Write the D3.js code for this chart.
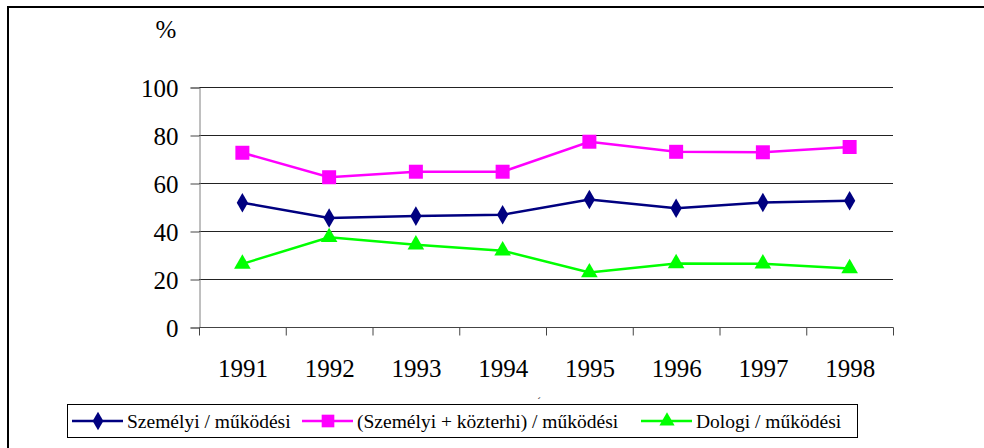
<!DOCTYPE html>
<html>
<head>
<meta charset="utf-8">
<script src="https://cdn.jsdelivr.net/npm/d3@7/dist/d3.min.js"></script>
<style>
  body { margin: 0; background: #fff; }
  svg { display: block; }
</style>
</head>
<body>
<svg width="984" height="448" font-family="Liberation Serif"></svg>
<script>
// data
var years = ["1991", "1992", "1993", "1994", "1995", "1996", "1997", "1998"];
var szemelyi = [51.8, 45.4, 46.2, 46.8, 53.1, 49.5, 51.9, 52.6];
var szemKozterhi = [72.6, 62.4, 64.7, 64.7, 77.2, 73.0, 72.8, 75.0];
var dologi = [26.3, 37.4, 34.3, 31.8, 22.7, 26.5, 26.4, 24.4];
var yTicks = [0, 20, 40, 60, 80, 100];
var seriesNames = ["Személyi / működési", "(Személyi + közterhi) / működési", "Dologi / működési"];
var seriesColors = ["#000080", "#ff00ff", "#00ff00"];
var seriesShapes = [d3.symbolDiamond, d3.symbolSquare, d3.symbolTriangle];

var svg = d3.select("svg"),
    width = +svg.attr("width"),
    height = +svg.attr("height");

var x = d3.scaleBand().domain(years).range([199, 893]),
    y = d3.scaleLinear().domain([0, 100]).range([327, 87]);

// outer frame (top + left only visible)
svg.append("path")
    .attr("d", "M8,448 L8,7 L984,7")
    .attr("fill", "none")
    .attr("stroke", "#000")
    .attr("stroke-width", 2);

// gridlines
svg.append("g").selectAll("line")
    .data(yTicks.filter(function(d) { return d > 0; }))
    .enter().append("line")
    .attr("x1", 199).attr("x2", 893)
    .attr("y1", function(d) { return y(d) + 0.5; })
    .attr("y2", function(d) { return y(d) + 0.5; })
    .attr("stroke", "#222").attr("stroke-width", 1);

// y axis
var yAxis = svg.append("g")
    .attr("transform", "translate(199.5,0.5)")
    .call(d3.axisLeft(y).tickValues(yTicks).tickSize(9).tickPadding(12));
yAxis.attr("font-family", null).attr("font-size", 25);
yAxis.select(".domain").attr("stroke", "#808080");
yAxis.selectAll(".tick line").attr("stroke", "#444");
yAxis.selectAll(".tick text")
    .attr("fill", "#000")
    .attr("dy", "0.34em");

// x axis
var xAxis = svg.append("g")
    .attr("transform", "translate(0.5," + (y(0) + 0.5) + ")")
    .call(d3.axisBottom(x).tickSize(0).tickPadding(0));
xAxis.attr("font-family", null).attr("font-size", 25);
xAxis.select(".domain").attr("stroke", "#444").attr("d", "M199,0H893");
xAxis.selectAll(".tick text")
    .attr("fill", "#000")
    .attr("y", 49)
    .attr("dy", 0);
// category boundary ticks
xAxis.append("g").selectAll("line")
    .data(years.concat(["end"]))
    .enter().append("line")
    .attr("x1", function(d, i) { return 199 + i * x.step(); })
    .attr("x2", function(d, i) { return 199 + i * x.step(); })
    .attr("y1", 0).attr("y2", 8)
    .attr("stroke", "#444");

svg.append("text")
    .attr("x", 166).attr("y", 38)
    .attr("text-anchor", "middle")
    .attr("font-size", 25)
    .text("%");

// stray accent above the legend
svg.append("text")
    .attr("x", 539).attr("y", 405)
    .attr("text-anchor", "middle")
    .attr("font-size", 11)
    .text("´");

var series = [szemelyi, szemKozterhi, dologi];
var line = d3.line()
    .x(function(d, i) { return x(years[i]) + x.bandwidth() / 2; })
    .y(function(d) { return y(d); });

series.forEach(function(vals, k) {
  svg.append("path")
      .datum(vals)
      .attr("d", line)
      .attr("fill", "none")
      .attr("stroke", seriesColors[k])
      .attr("stroke-width", 2.5);
  svg.append("g").selectAll("path")
      .data(vals)
      .enter().append("path")
      .attr("transform", function(d, i) {
        return "translate(" + (x(years[i]) + x.bandwidth() / 2) + "," + y(d) + ")";
      })
      .attr("d", d3.symbol().type(seriesShapes[k]).size(k == 1 ? 196 : (k == 0 ? 110 : 120)))
      .attr("fill", seriesColors[k]);
});

// legend
var legend = svg.append("g");
legend.append("rect")
    .attr("x", 67.5).attr("y", 404.5)
    .attr("width", 790).attr("height", 33)
    .attr("fill", "#fff").attr("stroke", "#000").attr("stroke-width", 1);

var legendX = [72, 302, 641];
seriesNames.forEach(function(name, k) {
  var g = legend.append("g").attr("transform", "translate(" + legendX[k] + ",421)");
  g.append("line").attr("x1", 0).attr("x2", 51).attr("y1", 0).attr("y2", 0)
      .attr("stroke", seriesColors[k]).attr("stroke-width", 2.5);
  g.append("path").attr("transform", "translate(26,0)")
      .attr("d", d3.symbol().type(seriesShapes[k]).size(k == 1 ? 160 : 100))
      .attr("fill", seriesColors[k]);
  g.append("text").attr("x", 55).attr("y", 6.5)
      .attr("font-size", 19.5)
      .text(name);
});
</script>
</body>
</html>
